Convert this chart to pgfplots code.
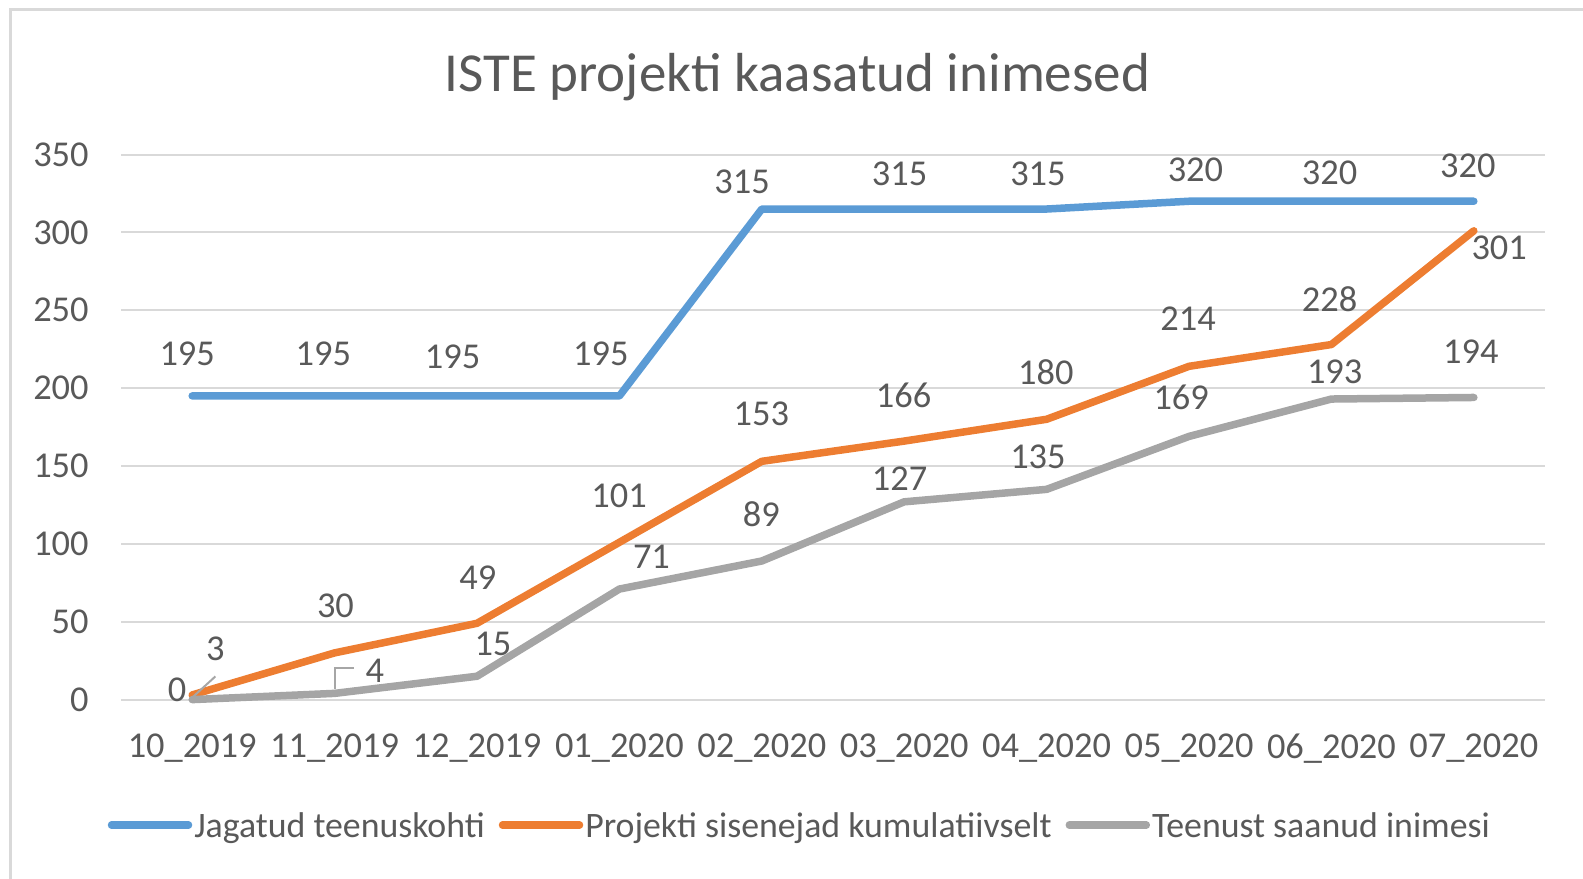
\documentclass[border=0pt]{standalone}
\usepackage{pgfplots}
\pgfplotsset{compat=1.18}
\usepackage{fontspec}
\setmainfont{Carlito}
\definecolor{cblue}{HTML}{5B9BD5}
\definecolor{corange}{HTML}{ED7D31}
\definecolor{cgray}{HTML}{A5A5A5}
\definecolor{txt}{HTML}{595959}
\definecolor{gridgray}{HTML}{D9D9D9}
\definecolor{leadgray}{HTML}{A6A6A6}
\tikzset{lbl/.style={text=txt, inner sep=0pt, font=\fontsize{18.2}{22}\selectfont}}
\begin{document}
\begin{tikzpicture}[font=\fontsize{18.2}{22}\selectfont]
\path[use as bounding box] (0,0) rectangle (791.5pt,-439pt);
\draw[color=gridgray, line width=1.5pt] (5pt,-445pt) -- (5pt,-4.5pt) -- (800pt,-4.5pt);
\node[anchor=base, text=txt, font=\fontsize{27.5}{32}\selectfont, inner sep=0pt] at (398.8pt,-45.9pt) {ISTE projekti kaasatud inimesed};
\begin{axis}[
  at={(60.5pt,-349.8pt)}, anchor=south west, scale only axis,
  width=712pt, height=272.55pt,
  xmin=-0.5, xmax=9.5, ymin=0, ymax=350,
  xtick={0,1,2,3,4,5,6,7,8,9},
  xticklabels={10\_2019,11\_2019,12\_2019,01\_2020,02\_2020,03\_2020,04\_2020,05\_2020,06\_2020,07\_2020},
  ytick={0,50,100,150,200,250,300,350},
  ymajorgrids, grid style={color=gridgray, line width=1pt},
  axis line style={draw=none},
  tick style={draw=none},
  major tick length=0pt,
  /pgf/number format/assume math mode=true,
  tick label style={text=txt, font=\fontsize{18.2}{22}\selectfont},
  yticklabel style={anchor=east, inner sep=0pt, xshift=-16pt},
  xticklabel style={anchor=north, inner sep=0pt, yshift=-17pt},
  clip=false,
  legend columns=3,
  legend style={draw=none, fill=none, at={(-0.0093,-0.232)}, anchor=west,
    inner sep=0pt, outer sep=0pt, text=txt, font=\fontsize{17.9}{22}\selectfont,
    nodes={inner sep=0pt},
    /tikz/every odd column/.style={column sep=1pt},
    /tikz/every even column/.style={column sep=7pt}},
  legend image code/.code={\draw[#1, line cap=round] (0pt,0.5pt) -- (38.5pt,0.5pt);},
  every axis plot/.append style={line width=3.75pt, line join=round, line cap=round, mark=none},
]
\addplot[color=cblue] coordinates {(0,195) (1,195) (2,195) (3,195) (4,315) (5,315) (6,315) (7,320) (8,320) (9,320)};
\addlegendentry{Jagatud teenuskohti}
\addplot[color=corange] coordinates {(0,3) (1,30) (2,49) (3,101) (4,153) (5,166) (6,180) (7,214) (8,228) (9,301)};
\addlegendentry{Projekti sisenejad kumulatiivselt}
\addplot[color=cgray] coordinates {(0,0) (1,4) (2,15) (3,71) (4,89) (5,127) (6,135) (7,169) (8,193) (9,194)};
\addlegendentry{Teenust saanud inimesi}
% leader lines
\draw[leadgray, line width=1pt] (axis cs:0.007,1.9) -- (axis cs:0.163,14.9);
\draw[leadgray, line width=1pt] (axis cs:1.006,6.5) -- (axis cs:1.006,20.1) -- (axis cs:1.134,20.1);
% blue labels
\node[lbl] at (axis cs:-0.035,222.3) {195};
\node[lbl] at (axis cs:0.921,222.3) {195};
\node[lbl] at (axis cs:1.828,220.4) {195};
\node[lbl] at (axis cs:2.870,222.3) {195};
\node[lbl] at (axis cs:3.862,332.5) {315};
\node[lbl] at (axis cs:4.968,337.7) {315};
\node[lbl] at (axis cs:5.939,337.7) {315};
\node[lbl] at (axis cs:7.045,340.3) {320};
\node[lbl] at (axis cs:7.987,338.3) {320};
\node[lbl] at (axis cs:8.958,342.9) {320};
% orange labels
\node[lbl] at (axis cs:0.163,32.4) {3};
\node[lbl] at (axis cs:1.006,60.3) {30};
\node[lbl] at (axis cs:2.006,78.4) {49};
\node[lbl] at (axis cs:2.998,130.9) {101};
\node[lbl] at (axis cs:3.997,183.4) {153};
\node[lbl] at (axis cs:4.996,195.1) {166};
\node[lbl] at (axis cs:5.995,210.0) {180};
\node[lbl] at (axis cs:6.994,244.3) {214};
\node[lbl] at (axis cs:7.987,257.3) {228};
\node[lbl] at (axis cs:9.178,290.4) {301};
% gray labels
\node[lbl] at (axis cs:-0.106,6.5) {0};
\node[lbl] at (axis cs:1.283,18.8) {4};
\node[lbl] at (axis cs:2.112,35.6) {15};
\node[lbl] at (axis cs:3.225,91.4) {71};
\node[lbl] at (axis cs:3.997,119.3) {89};
\node[lbl] at (axis cs:4.968,141.9) {127};
\node[lbl] at (axis cs:5.939,155.6) {135};
\node[lbl] at (axis cs:6.945,194.4) {169};
\node[lbl] at (axis cs:8.023,210.6) {193};
\node[lbl] at (axis cs:8.979,223.6) {194};
\end{axis}
\end{tikzpicture}
\end{document}
